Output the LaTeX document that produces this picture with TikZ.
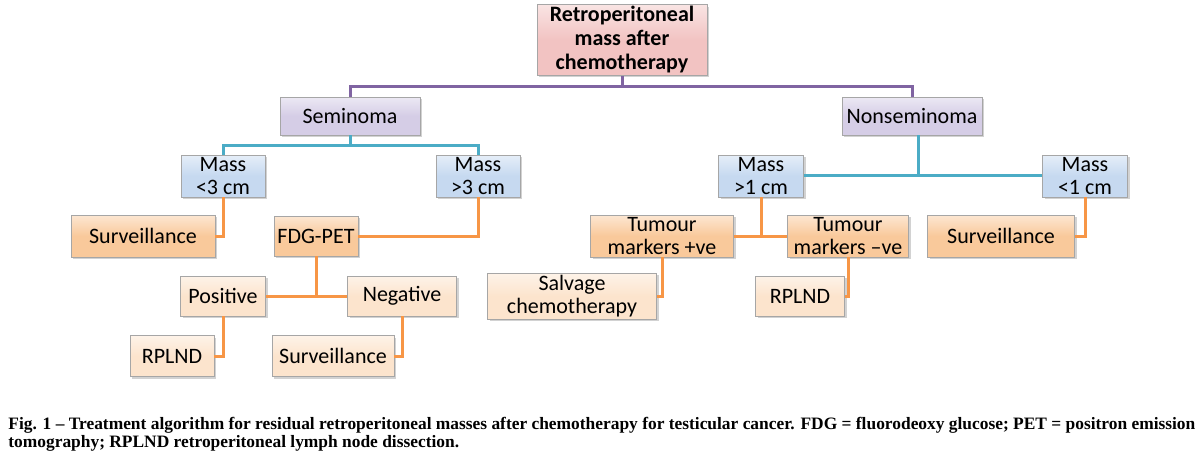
\documentclass[tikz,border=0pt]{standalone}
\usepackage{fontspec}
\setmainfont{Carlito}
\newfontfamily\capfont{Liberation Serif}
\usetikzlibrary{shadows}
\definecolor{cpink}{HTML}{F2C3C2}
\definecolor{cpurp}{HTML}{D5CDE6}
\definecolor{cblue}{HTML}{C6D9F0}
\definecolor{corng}{HTML}{F9C99B}
\definecolor{clite}{HTML}{FCE4CD}
\definecolor{lpurp}{HTML}{8064A2}
\definecolor{lteal}{HTML}{4BACC6}
\definecolor{lorng}{HTML}{F79646}
\begin{document}
\begin{tikzpicture}[x=0.5pt,y=-0.5pt,
  bx/.style={draw=black!35,line width=0.4pt,inner sep=1pt,align=center,font=\fontsize{11}{11.5}\selectfont,
    drop shadow={shadow xshift=1pt,shadow yshift=-1pt,opacity=0.35}},
  b/.style args={#1/#2/#3}{bx,top color=#3!45,bottom color=#3,middle color=#3,minimum width=#1*0.5pt,minimum height=#2*0.5pt},
  pl/.style={lpurp,line width=1.5pt},
  tl/.style={lteal,line width=1.5pt},
  ol/.style={lorng,line width=1.5pt},
  captxt/.style={anchor=west,inner sep=0,font=\capfont\bfseries\fontsize{8.7}{10}\selectfont}]
\useasboundingbox (0,0) rectangle (1200,451);
\fill[white] (0,0) rectangle (1200,451);
% nodes
\node[b=170/70/cpink,font=\bfseries\fontsize{11}{12}\selectfont] (root) at (622,40) {Retroperitoneal\\mass after\\chemotherapy};
\node[b=140/38/cpurp] (sem) at (350,116) {Seminoma};
\node[b=140/38/cpurp] (non) at (912,116) {Nonseminoma};
\node[b=84/42/cblue] (m3a) at (223,176) {Mass\\<3 cm};
\node[b=84/42/cblue] (m3b) at (478,176) {Mass\\>3 cm};
\node[b=85/42/cblue] (m1a) at (761,176) {Mass\\>1 cm};
\node[b=85/42/cblue] (m1b) at (1085,176) {Mass\\<1 cm};
\node[b=144/42/corng] (sv1) at (143,236) {Surveillance};
\node[b=84/40/corng] (fdg) at (316,236) {FDG-PET};
\node[b=143/42/corng] (tp) at (662,236) {Tumour\\markers +ve};
\node[b=121/42/corng] (tn) at (848,236) {Tumour\\markers –ve};
\node[b=147/42/corng] (sv3) at (1001,236) {Surveillance};
\node[b=85/40/clite] (pos) at (223,296) {Positive};
\node[b=109/40/clite] (neg) at (402,296) {Negative};
\node[b=169/42/clite] (sal) at (572,296) {Salvage\\chemotherapy};
\node[b=89/40/clite] (rp2) at (800,296) {RPLND};
\node[b=84/41/clite] (rp1) at (172,356) {RPLND};
\node[b=122/41/clite] (sv2) at (333,356) {Surveillance};
% connectors
\draw[pl] (root.south) -- ++(0,11) -| (sem.north);
\draw[pl] (root.south) ++(0,11) -| (non.north);
\draw[tl] (sem.south) -- ++(0,10) -| (m3a.north);
\draw[tl] (sem.south) ++(0,10) -| (m3b.north);
\draw[tl] (non.south -| 918,0) coordinate (nj) -- (918,175) coordinate (nk);
\draw[tl] (m1a.east |- nk) -- (m1b.west |- nk);
\draw[ol] (m3a.south) |- (sv1.east);
\draw[ol] (m3b.south) |- (fdg.east);
\draw[ol] (fdg.south) -- (fdg.south |- pos.east) coordinate (fj);
\draw[ol] (pos.east) -- (neg.west);
\draw[ol] (pos.south) |- (rp1.east);
\draw[ol] (neg.south) |- (sv2.east);
\draw[ol] (m1a.south) -- (m1a.south |- tp.east);
\draw[ol] (tp.east) -- (tn.west);
\draw[ol] (tp.south) |- (sal.east);
\draw[ol] (tn.south) |- (rp2.east);
\draw[ol] (m1b.south) |- (sv3.east);
% caption
\node[captxt] (cap1) at (8,425) {Fig. 1 – Treatment algorithm for residual retroperitoneal masses after chemotherapy for testicular cancer. FDG = fluorodeoxy glucose; PET = positron emission};
\node[captxt] (cap2) at (8,443) {tomography; RPLND retroperitoneal lymph node dissection.};
\end{tikzpicture}
\end{document}
